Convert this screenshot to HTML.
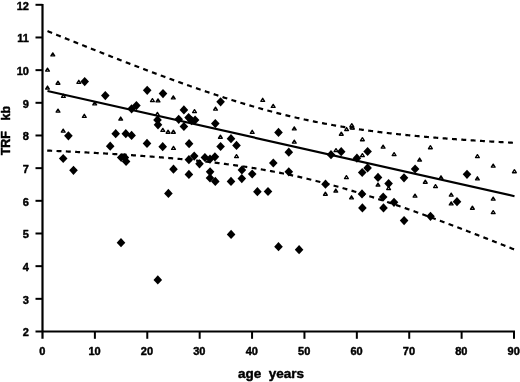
<!DOCTYPE html>
<html><head><meta charset="utf-8"><style>
html,body{margin:0;padding:0;background:#fff;}
svg{display:block;filter:grayscale(1);}
.t{font-family:"Liberation Sans",sans-serif;font-weight:bold;font-size:11px;fill:#000;stroke:#000;stroke-width:0.45;stroke-linejoin:round;}
.ax{font-family:"Liberation Sans",sans-serif;font-weight:bold;font-size:13.5px;fill:#000;stroke:#000;stroke-width:0.45;stroke-linejoin:round;}
.ay{font-family:"Liberation Sans",sans-serif;font-weight:bold;font-size:12.5px;fill:#000;stroke:#000;stroke-width:0.45;stroke-linejoin:round;}
.tp{fill:#000;stroke:#000;stroke-width:0.45;stroke-linejoin:round;}
.tr{fill:#fff;stroke:#000;stroke-width:1.35;stroke-linejoin:round;}
</style></head><body>
<svg width="520" height="382" viewBox="0 0 520 382">
<line x1="42.5" y1="3.9" x2="42.5" y2="338.8" stroke="#000" stroke-width="2.2"/>
<line x1="35.5" y1="331.5" x2="515.01" y2="331.5" stroke="#000" stroke-width="2.2"/>
<line x1="35.5" y1="298.83" x2="42.5" y2="298.83" stroke="#000" stroke-width="2"/>
<line x1="35.5" y1="266.16" x2="42.5" y2="266.16" stroke="#000" stroke-width="2"/>
<line x1="35.5" y1="233.49" x2="42.5" y2="233.49" stroke="#000" stroke-width="2"/>
<line x1="35.5" y1="200.82" x2="42.5" y2="200.82" stroke="#000" stroke-width="2"/>
<line x1="35.5" y1="168.15" x2="42.5" y2="168.15" stroke="#000" stroke-width="2"/>
<line x1="35.5" y1="135.48" x2="42.5" y2="135.48" stroke="#000" stroke-width="2"/>
<line x1="35.5" y1="102.81" x2="42.5" y2="102.81" stroke="#000" stroke-width="2"/>
<line x1="35.5" y1="70.14" x2="42.5" y2="70.14" stroke="#000" stroke-width="2"/>
<line x1="35.5" y1="37.47" x2="42.5" y2="37.47" stroke="#000" stroke-width="2"/>
<line x1="35.5" y1="4.80" x2="42.5" y2="4.80" stroke="#000" stroke-width="2"/>
<line x1="94.89" y1="331.5" x2="94.89" y2="338.8" stroke="#000" stroke-width="2"/>
<line x1="147.28" y1="331.5" x2="147.28" y2="338.8" stroke="#000" stroke-width="2"/>
<line x1="199.67" y1="331.5" x2="199.67" y2="338.8" stroke="#000" stroke-width="2"/>
<line x1="252.06" y1="331.5" x2="252.06" y2="338.8" stroke="#000" stroke-width="2"/>
<line x1="304.45" y1="331.5" x2="304.45" y2="338.8" stroke="#000" stroke-width="2"/>
<line x1="356.84" y1="331.5" x2="356.84" y2="338.8" stroke="#000" stroke-width="2"/>
<line x1="409.23" y1="331.5" x2="409.23" y2="338.8" stroke="#000" stroke-width="2"/>
<line x1="461.62" y1="331.5" x2="461.62" y2="338.8" stroke="#000" stroke-width="2"/>
<line x1="514.01" y1="331.5" x2="514.01" y2="338.8" stroke="#000" stroke-width="2"/>
<text x="28.9" y="336.30" text-anchor="end" class="t">2</text>
<text x="28.9" y="303.63" text-anchor="end" class="t">3</text>
<text x="28.9" y="270.96" text-anchor="end" class="t">4</text>
<text x="28.9" y="238.29" text-anchor="end" class="t">5</text>
<text x="28.9" y="205.62" text-anchor="end" class="t">6</text>
<text x="28.9" y="172.95" text-anchor="end" class="t">7</text>
<text x="28.9" y="140.28" text-anchor="end" class="t">8</text>
<text x="28.9" y="107.61" text-anchor="end" class="t">9</text>
<text x="28.9" y="74.94" text-anchor="end" class="t">10</text>
<text x="28.9" y="42.27" text-anchor="end" class="t">11</text>
<text x="28.9" y="9.60" text-anchor="end" class="t">12</text>
<text x="42.20" y="354.7" text-anchor="middle" class="t">0</text>
<text x="94.59" y="354.7" text-anchor="middle" class="t">10</text>
<text x="146.98" y="354.7" text-anchor="middle" class="t">20</text>
<text x="199.37" y="354.7" text-anchor="middle" class="t">30</text>
<text x="251.76" y="354.7" text-anchor="middle" class="t">40</text>
<text x="304.15" y="354.7" text-anchor="middle" class="t">50</text>
<text x="356.54" y="354.7" text-anchor="middle" class="t">60</text>
<text x="408.93" y="354.7" text-anchor="middle" class="t">70</text>
<text x="461.32" y="354.7" text-anchor="middle" class="t">80</text>
<text x="513.71" y="354.7" text-anchor="middle" class="t">90</text>
<text x="237.9" y="377.9" class="ax" xml:space="preserve">age  years</text>
<g transform="translate(10.3,155.2) rotate(-90)"><text x="-0.140" y="0" class="ay">TRF</text><text x="34.627" y="0" class="ay">kb</text></g>
<path d="M47.50,31.09 L48.50,31.50 L49.50,31.91 L50.50,32.31 L51.50,32.72 L52.50,33.12 L53.50,33.53 L54.50,33.93 L55.50,34.34 L56.50,34.74 L57.50,35.15 L58.50,35.55 L59.50,35.95 L60.50,36.36 L61.50,36.76 L62.50,37.16 L63.50,37.57 L64.50,37.97 L65.50,38.37 L66.50,38.78 L67.50,39.18 L68.50,39.58 L69.50,39.98 L70.50,40.38 L71.50,40.79 L72.50,41.19 L73.50,41.59 L74.50,41.99 L75.50,42.39 L76.50,42.79 L77.50,43.19 L78.50,43.59 L79.50,43.99 L80.50,44.39 L81.50,44.79 L82.50,45.19 L83.50,45.59 L84.50,45.99 L85.50,46.38 L86.50,46.78 L87.50,47.18 L88.50,47.58 L89.50,47.97 L90.50,48.37 L91.50,48.77 L92.50,49.17 L93.50,49.56 L94.50,49.96 L95.50,50.35 L96.50,50.75 L97.50,51.14 L98.50,51.54 L99.50,51.93 L100.50,52.33 L101.50,52.72 L102.50,53.12 L103.50,53.51 L104.50,53.90 L105.50,54.30 L106.50,54.69 L107.50,55.08 L108.50,55.47 L109.50,55.86 L110.50,56.25 L111.50,56.65 L112.50,57.04 L113.50,57.43 L114.50,57.82 L115.50,58.21 L116.50,58.60 L117.50,58.99 L118.50,59.37 L119.50,59.76 L120.50,60.15 L121.50,60.54 L122.50,60.93 L123.50,61.31 L124.50,61.70 L125.50,62.09 L126.50,62.47 L127.50,62.86 L128.50,63.24 L129.50,63.63 L130.50,64.01 L131.50,64.40 L132.50,64.78 L133.50,65.16 L134.50,65.54 L135.50,65.93 L136.50,66.31 L137.50,66.69 L138.50,67.07 L139.50,67.45 L140.50,67.83 L141.50,68.21 L142.50,68.59 L143.50,68.97 L144.50,69.35 L145.50,69.73 L146.50,70.11 L147.50,70.48 L148.50,70.86 L149.50,71.24 L150.50,71.61 L151.50,71.99 L152.50,72.36 L153.50,72.74 L154.50,73.11 L155.50,73.48 L156.50,73.86 L157.50,74.23 L158.50,74.60 L159.50,74.97 L160.50,75.34 L161.50,75.71 L162.50,76.08 L163.50,76.45 L164.50,76.82 L165.50,77.19 L166.50,77.55 L167.50,77.92 L168.50,78.29 L169.50,78.65 L170.50,79.02 L171.50,79.38 L172.50,79.75 L173.50,80.11 L174.50,80.47 L175.50,80.83 L176.50,81.20 L177.50,81.56 L178.50,81.92 L179.50,82.28 L180.50,82.64 L181.50,82.99 L182.50,83.35 L183.50,83.71 L184.50,84.06 L185.50,84.42 L186.50,84.77 L187.50,85.13 L188.50,85.48 L189.50,85.83 L190.50,86.19 L191.50,86.54 L192.50,86.89 L193.50,87.24 L194.50,87.59 L195.50,87.94 L196.50,88.28 L197.50,88.63 L198.50,88.98 L199.50,89.32 L200.50,89.67 L201.50,90.01 L202.50,90.35 L203.50,90.69 L204.50,91.03 L205.50,91.37 L206.50,91.71 L207.50,92.05 L208.50,92.39 L209.50,92.73 L210.50,93.06 L211.50,93.40 L212.50,93.73 L213.50,94.06 L214.50,94.40 L215.50,94.73 L216.50,95.06 L217.50,95.39 L218.50,95.72 L219.50,96.04 L220.50,96.37 L221.50,96.70 L222.50,97.02 L223.50,97.34 L224.50,97.67 L225.50,97.99 L226.50,98.31 L227.50,98.63 L228.50,98.95 L229.50,99.26 L230.50,99.58 L231.50,99.90 L232.50,100.21 L233.50,100.52 L234.50,100.84 L235.50,101.15 L236.50,101.46 L237.50,101.77 L238.50,102.07 L239.50,102.38 L240.50,102.68 L241.50,102.99 L242.50,103.29 L243.50,103.59 L244.50,103.89 L245.50,104.19 L246.50,104.49 L247.50,104.79 L248.50,105.08 L249.50,105.38 L250.50,105.67 L251.50,105.96 L252.50,106.26 L253.50,106.55 L254.50,106.83 L255.50,107.12 L256.50,107.41 L257.50,107.69 L258.50,107.97 L259.50,108.26 L260.50,108.54 L261.50,108.82 L262.50,109.09 L263.50,109.37 L264.50,109.65 L265.50,109.92 L266.50,110.19 L267.50,110.46 L268.50,110.73 L269.50,111.00 L270.50,111.27 L271.50,111.54 L272.50,111.80 L273.50,112.06 L274.50,112.33 L275.50,112.59 L276.50,112.84 L277.50,113.10 L278.50,113.36 L279.50,113.61 L280.50,113.87 L281.50,114.12 L282.50,114.37 L283.50,114.62 L284.50,114.86 L285.50,115.11 L286.50,115.35 L287.50,115.60 L288.50,115.84 L289.50,116.08 L290.50,116.32 L291.50,116.56 L292.50,116.79 L293.50,117.03 L294.50,117.26 L295.50,117.49 L296.50,117.72 L297.50,117.95 L298.50,118.18 L299.50,118.40 L300.50,118.63 L301.50,118.85 L302.50,119.07 L303.50,119.29 L304.50,119.51 L305.50,119.72 L306.50,119.94 L307.50,120.15 L308.50,120.37 L309.50,120.58 L310.50,120.79 L311.50,121.00 L312.50,121.20 L313.50,121.41 L314.50,121.61 L315.50,121.81 L316.50,122.01 L317.50,122.21 L318.50,122.41 L319.50,122.61 L320.50,122.80 L321.50,123.00 L322.50,123.19 L323.50,123.38 L324.50,123.57 L325.50,123.76 L326.50,123.95 L327.50,124.13 L328.50,124.31 L329.50,124.50 L330.50,124.68 L331.50,124.86 L332.50,125.04 L333.50,125.21 L334.50,125.39 L335.50,125.57 L336.50,125.74 L337.50,125.91 L338.50,126.08 L339.50,126.25 L340.50,126.42 L341.50,126.58 L342.50,126.75 L343.50,126.91 L344.50,127.08 L345.50,127.24 L346.50,127.40 L347.50,127.56 L348.50,127.72 L349.50,127.87 L350.50,128.03 L351.50,128.18 L352.50,128.34 L353.50,128.49 L354.50,128.64 L355.50,128.79 L356.50,128.94 L357.50,129.08 L358.50,129.23 L359.50,129.37 L360.50,129.52 L361.50,129.66 L362.50,129.80 L363.50,129.94 L364.50,130.08 L365.50,130.22 L366.50,130.36 L367.50,130.49 L368.50,130.63 L369.50,130.76 L370.50,130.89 L371.50,131.02 L372.50,131.16 L373.50,131.29 L374.50,131.41 L375.50,131.54 L376.50,131.67 L377.50,131.79 L378.50,131.92 L379.50,132.04 L380.50,132.16 L381.50,132.29 L382.50,132.41 L383.50,132.53 L384.50,132.65 L385.50,132.76 L386.50,132.88 L387.50,133.00 L388.50,133.11 L389.50,133.23 L390.50,133.34 L391.50,133.45 L392.50,133.57 L393.50,133.68 L394.50,133.79 L395.50,133.90 L396.50,134.01 L397.50,134.11 L398.50,134.22 L399.50,134.33 L400.50,134.43 L401.50,134.54 L402.50,134.64 L403.50,134.74 L404.50,134.85 L405.50,134.95 L406.50,135.05 L407.50,135.15 L408.50,135.25 L409.50,135.35 L410.50,135.44 L411.50,135.54 L412.50,135.64 L413.50,135.73 L414.50,135.83 L415.50,135.92 L416.50,136.02 L417.50,136.11 L418.50,136.20 L419.50,136.29 L420.50,136.38 L421.50,136.47 L422.50,136.56 L423.50,136.65 L424.50,136.74 L425.50,136.83 L426.50,136.92 L427.50,137.00 L428.50,137.09 L429.50,137.18 L430.50,137.26 L431.50,137.34 L432.50,137.43 L433.50,137.51 L434.50,137.59 L435.50,137.68 L436.50,137.76 L437.50,137.84 L438.50,137.92 L439.50,138.00 L440.50,138.08 L441.50,138.16 L442.50,138.24 L443.50,138.31 L444.50,138.39 L445.50,138.47 L446.50,138.55 L447.50,138.62 L448.50,138.70 L449.50,138.77 L450.50,138.85 L451.50,138.92 L452.50,138.99 L453.50,139.07 L454.50,139.14 L455.50,139.21 L456.50,139.28 L457.50,139.36 L458.50,139.43 L459.50,139.50 L460.50,139.57 L461.50,139.64 L462.50,139.71 L463.50,139.78 L464.50,139.84 L465.50,139.91 L466.50,139.98 L467.50,140.05 L468.50,140.11 L469.50,140.18 L470.50,140.25 L471.50,140.31 L472.50,140.38 L473.50,140.44 L474.50,140.51 L475.50,140.57 L476.50,140.64 L477.50,140.70 L478.50,140.76 L479.50,140.82 L480.50,140.89 L481.50,140.95 L482.50,141.01 L483.50,141.07 L484.50,141.13 L485.50,141.19 L486.50,141.26 L487.50,141.32 L488.50,141.38 L489.50,141.44 L490.50,141.49 L491.50,141.55 L492.50,141.61 L493.50,141.67 L494.50,141.73 L495.50,141.79 L496.50,141.84 L497.50,141.90 L498.50,141.96 L499.50,142.01 L500.50,142.07 L501.50,142.13 L502.50,142.18 L503.50,142.24 L504.50,142.29 L505.50,142.35 L506.50,142.40 L507.50,142.46 L508.50,142.51 L509.50,142.57 L510.50,142.62 L511.50,142.67 L512.50,142.73 L513.50,142.78 L514.50,142.83" fill="none" stroke="#000" stroke-width="2.2" stroke-dasharray="4.95 4.405"/>
<path d="M47.20,150.55 L48.20,150.60 L49.20,150.64 L50.20,150.69 L51.20,150.73 L52.20,150.78 L53.20,150.83 L54.20,150.87 L55.20,150.92 L56.20,150.97 L57.20,151.01 L58.20,151.06 L59.20,151.11 L60.20,151.15 L61.20,151.20 L62.20,151.25 L63.20,151.30 L64.20,151.35 L65.20,151.39 L66.20,151.44 L67.20,151.49 L68.20,151.54 L69.20,151.59 L70.20,151.64 L71.20,151.69 L72.20,151.74 L73.20,151.79 L74.20,151.84 L75.20,151.89 L76.20,151.94 L77.20,151.99 L78.20,152.04 L79.20,152.09 L80.20,152.15 L81.20,152.20 L82.20,152.25 L83.20,152.30 L84.20,152.36 L85.20,152.41 L86.20,152.46 L87.20,152.51 L88.20,152.57 L89.20,152.62 L90.20,152.68 L91.20,152.73 L92.20,152.79 L93.20,152.84 L94.20,152.90 L95.20,152.95 L96.20,153.01 L97.20,153.06 L98.20,153.12 L99.20,153.18 L100.20,153.23 L101.20,153.29 L102.20,153.35 L103.20,153.40 L104.20,153.46 L105.20,153.52 L106.20,153.58 L107.20,153.64 L108.20,153.70 L109.20,153.76 L110.20,153.82 L111.20,153.88 L112.20,153.94 L113.20,154.00 L114.20,154.06 L115.20,154.12 L116.20,154.18 L117.20,154.24 L118.20,154.31 L119.20,154.37 L120.20,154.43 L121.20,154.50 L122.20,154.56 L123.20,154.62 L124.20,154.69 L125.20,154.75 L126.20,154.82 L127.20,154.88 L128.20,154.95 L129.20,155.02 L130.20,155.08 L131.20,155.15 L132.20,155.22 L133.20,155.29 L134.20,155.35 L135.20,155.42 L136.20,155.49 L137.20,155.56 L138.20,155.63 L139.20,155.70 L140.20,155.77 L141.20,155.84 L142.20,155.92 L143.20,155.99 L144.20,156.06 L145.20,156.13 L146.20,156.21 L147.20,156.28 L148.20,156.36 L149.20,156.43 L150.20,156.51 L151.20,156.58 L152.20,156.66 L153.20,156.73 L154.20,156.81 L155.20,156.89 L156.20,156.97 L157.20,157.05 L158.20,157.13 L159.20,157.21 L160.20,157.29 L161.20,157.37 L162.20,157.45 L163.20,157.53 L164.20,157.61 L165.20,157.70 L166.20,157.78 L167.20,157.86 L168.20,157.95 L169.20,158.03 L170.20,158.12 L171.20,158.21 L172.20,158.29 L173.20,158.38 L174.20,158.47 L175.20,158.56 L176.20,158.65 L177.20,158.74 L178.20,158.83 L179.20,158.92 L180.20,159.01 L181.20,159.11 L182.20,159.20 L183.20,159.29 L184.20,159.39 L185.20,159.48 L186.20,159.58 L187.20,159.68 L188.20,159.78 L189.20,159.87 L190.20,159.97 L191.20,160.07 L192.20,160.17 L193.20,160.27 L194.20,160.38 L195.20,160.48 L196.20,160.58 L197.20,160.69 L198.20,160.79 L199.20,160.90 L200.20,161.00 L201.20,161.11 L202.20,161.22 L203.20,161.33 L204.20,161.44 L205.20,161.55 L206.20,161.66 L207.20,161.77 L208.20,161.89 L209.20,162.00 L210.20,162.12 L211.20,162.23 L212.20,162.35 L213.20,162.47 L214.20,162.59 L215.20,162.71 L216.20,162.83 L217.20,162.95 L218.20,163.07 L219.20,163.19 L220.20,163.32 L221.20,163.44 L222.20,163.57 L223.20,163.70 L224.20,163.83 L225.20,163.96 L226.20,164.09 L227.20,164.22 L228.20,164.35 L229.20,164.48 L230.20,164.62 L231.20,164.75 L232.20,164.89 L233.20,165.03 L234.20,165.17 L235.20,165.31 L236.20,165.45 L237.20,165.59 L238.20,165.73 L239.20,165.88 L240.20,166.02 L241.20,166.17 L242.20,166.32 L243.20,166.47 L244.20,166.62 L245.20,166.77 L246.20,166.92 L247.20,167.08 L248.20,167.23 L249.20,167.39 L250.20,167.54 L251.20,167.70 L252.20,167.86 L253.20,168.02 L254.20,168.19 L255.20,168.35 L256.20,168.52 L257.20,168.68 L258.20,168.85 L259.20,169.02 L260.20,169.19 L261.20,169.36 L262.20,169.53 L263.20,169.71 L264.20,169.88 L265.20,170.06 L266.20,170.24 L267.20,170.42 L268.20,170.60 L269.20,170.78 L270.20,170.96 L271.20,171.15 L272.20,171.34 L273.20,171.52 L274.20,171.71 L275.20,171.90 L276.20,172.09 L277.20,172.29 L278.20,172.48 L279.20,172.68 L280.20,172.88 L281.20,173.08 L282.20,173.28 L283.20,173.48 L284.20,173.68 L285.20,173.89 L286.20,174.09 L287.20,174.30 L288.20,174.51 L289.20,174.72 L290.20,174.93 L291.20,175.15 L292.20,175.36 L293.20,175.58 L294.20,175.80 L295.20,176.01 L296.20,176.24 L297.20,176.46 L298.20,176.68 L299.20,176.91 L300.20,177.13 L301.20,177.36 L302.20,177.59 L303.20,177.82 L304.20,178.05 L305.20,178.29 L306.20,178.52 L307.20,178.76 L308.20,179.00 L309.20,179.24 L310.20,179.48 L311.20,179.72 L312.20,179.97 L313.20,180.21 L314.20,180.46 L315.20,180.71 L316.20,180.96 L317.20,181.21 L318.20,181.46 L319.20,181.72 L320.20,181.97 L321.20,182.23 L322.20,182.49 L323.20,182.75 L324.20,183.01 L325.20,183.27 L326.20,183.53 L327.20,183.80 L328.20,184.07 L329.20,184.34 L330.20,184.60 L331.20,184.88 L332.20,185.15 L333.20,185.42 L334.20,185.70 L335.20,185.97 L336.20,186.25 L337.20,186.53 L338.20,186.81 L339.20,187.09 L340.20,187.37 L341.20,187.66 L342.20,187.94 L343.20,188.23 L344.20,188.52 L345.20,188.81 L346.20,189.10 L347.20,189.39 L348.20,189.68 L349.20,189.98 L350.20,190.27 L351.20,190.57 L352.20,190.87 L353.20,191.17 L354.20,191.47 L355.20,191.77 L356.20,192.07 L357.20,192.37 L358.20,192.68 L359.20,192.99 L360.20,193.29 L361.20,193.60 L362.20,193.91 L363.20,194.22 L364.20,194.53 L365.20,194.85 L366.20,195.16 L367.20,195.47 L368.20,195.79 L369.20,196.11 L370.20,196.43 L371.20,196.75 L372.20,197.07 L373.20,197.39 L374.20,197.71 L375.20,198.03 L376.20,198.36 L377.20,198.68 L378.20,199.01 L379.20,199.34 L380.20,199.66 L381.20,199.99 L382.20,200.32 L383.20,200.65 L384.20,200.99 L385.20,201.32 L386.20,201.65 L387.20,201.99 L388.20,202.32 L389.20,202.66 L390.20,203.00 L391.20,203.33 L392.20,203.67 L393.20,204.01 L394.20,204.35 L395.20,204.70 L396.20,205.04 L397.20,205.38 L398.20,205.73 L399.20,206.07 L400.20,206.42 L401.20,206.76 L402.20,207.11 L403.20,207.46 L404.20,207.81 L405.20,208.16 L406.20,208.51 L407.20,208.86 L408.20,209.21 L409.20,209.56 L410.20,209.92 L411.20,210.27 L412.20,210.62 L413.20,210.98 L414.20,211.34 L415.20,211.69 L416.20,212.05 L417.20,212.41 L418.20,212.77 L419.20,213.13 L420.20,213.49 L421.20,213.85 L422.20,214.21 L423.20,214.57 L424.20,214.93 L425.20,215.29 L426.20,215.66 L427.20,216.02 L428.20,216.39 L429.20,216.75 L430.20,217.12 L431.20,217.49 L432.20,217.85 L433.20,218.22 L434.20,218.59 L435.20,218.96 L436.20,219.33 L437.20,219.70 L438.20,220.07 L439.20,220.44 L440.20,220.81 L441.20,221.18 L442.20,221.56 L443.20,221.93 L444.20,222.30 L445.20,222.68 L446.20,223.05 L447.20,223.43 L448.20,223.80 L449.20,224.18 L450.20,224.55 L451.20,224.93 L452.20,225.31 L453.20,225.69 L454.20,226.07 L455.20,226.44 L456.20,226.82 L457.20,227.20 L458.20,227.58 L459.20,227.96 L460.20,228.35 L461.20,228.73 L462.20,229.11 L463.20,229.49 L464.20,229.87 L465.20,230.26 L466.20,230.64 L467.20,231.02 L468.20,231.41 L469.20,231.79 L470.20,232.18 L471.20,232.56 L472.20,232.95 L473.20,233.34 L474.20,233.72 L475.20,234.11 L476.20,234.50 L477.20,234.88 L478.20,235.27 L479.20,235.66 L480.20,236.05 L481.20,236.44 L482.20,236.83 L483.20,237.22 L484.20,237.61 L485.20,238.00 L486.20,238.39 L487.20,238.78 L488.20,239.17 L489.20,239.56 L490.20,239.95 L491.20,240.34 L492.20,240.74 L493.20,241.13 L494.20,241.52 L495.20,241.92 L496.20,242.31 L497.20,242.70 L498.20,243.10 L499.20,243.49 L500.20,243.89 L501.20,244.28 L502.20,244.68 L503.20,245.07 L504.20,245.47 L505.20,245.87 L506.20,246.26 L507.20,246.66 L508.20,247.06 L509.20,247.45 L510.20,247.85 L511.20,248.25 L512.20,248.65 L513.20,249.05 L514.20,249.44" fill="none" stroke="#000" stroke-width="2.2" stroke-dasharray="4.95 4.378"/>
<line x1="47.5" y1="91" x2="514.5" y2="196.2" stroke="#000" stroke-width="2.2"/>
<path d="M52.80,52.90 L54.70,55.92 L50.90,55.92Z" class="tr"/>
<path d="M47.50,68.10 L49.40,71.12 L45.60,71.12Z" class="tr"/>
<path d="M58.00,81.20 L59.90,84.22 L56.10,84.22Z" class="tr"/>
<path d="M78.80,80.30 L80.70,83.32 L76.90,83.32Z" class="tr"/>
<path d="M47.50,86.00 L49.40,89.02 L45.60,89.02Z" class="tr"/>
<path d="M63.40,94.30 L65.30,97.32 L61.50,97.32Z" class="tr"/>
<path d="M94.70,101.90 L96.60,104.92 L92.80,104.92Z" class="tr"/>
<path d="M58.00,109.10 L59.90,112.12 L56.10,112.12Z" class="tr"/>
<path d="M84.30,114.30 L86.20,117.32 L82.40,117.32Z" class="tr"/>
<path d="M120.70,117.00 L122.60,120.02 L118.80,120.02Z" class="tr"/>
<path d="M63.20,129.10 L65.10,132.12 L61.30,132.12Z" class="tr"/>
<path d="M152.40,98.60 L154.30,101.62 L150.50,101.62Z" class="tr"/>
<path d="M158.00,98.90 L159.90,101.92 L156.10,101.92Z" class="tr"/>
<path d="M173.30,95.90 L175.20,98.92 L171.40,98.92Z" class="tr"/>
<path d="M194.50,109.60 L196.40,112.62 L192.60,112.62Z" class="tr"/>
<path d="M157.40,112.40 L159.30,115.42 L155.50,115.42Z" class="tr"/>
<path d="M162.80,128.40 L164.70,131.42 L160.90,131.42Z" class="tr"/>
<path d="M168.10,130.20 L170.00,133.22 L166.20,133.22Z" class="tr"/>
<path d="M173.40,130.20 L175.30,133.22 L171.50,133.22Z" class="tr"/>
<path d="M215.50,107.10 L217.40,110.12 L213.60,110.12Z" class="tr"/>
<path d="M262.70,98.30 L264.60,101.32 L260.80,101.32Z" class="tr"/>
<path d="M273.20,104.40 L275.10,107.42 L271.30,107.42Z" class="tr"/>
<path d="M252.20,130.30 L254.10,133.32 L250.30,133.32Z" class="tr"/>
<path d="M220.40,135.20 L222.30,138.22 L218.50,138.22Z" class="tr"/>
<path d="M173.50,146.40 L175.40,149.42 L171.60,149.42Z" class="tr"/>
<path d="M236.50,154.60 L238.40,157.62 L234.60,157.62Z" class="tr"/>
<path d="M294.30,126.90 L296.20,129.92 L292.40,129.92Z" class="tr"/>
<path d="M294.30,140.10 L296.20,143.12 L292.40,143.12Z" class="tr"/>
<path d="M341.30,132.20 L343.20,135.22 L339.40,135.22Z" class="tr"/>
<path d="M346.60,127.50 L348.50,130.52 L344.70,130.52Z" class="tr"/>
<path d="M351.80,123.70 L353.70,126.72 L349.90,126.72Z" class="tr"/>
<path d="M352.30,126.00 L354.20,129.02 L350.40,129.02Z" class="tr"/>
<path d="M336.00,148.60 L337.90,151.62 L334.10,151.62Z" class="tr"/>
<path d="M362.40,137.70 L364.30,140.72 L360.50,140.72Z" class="tr"/>
<path d="M383.10,145.10 L385.00,148.12 L381.20,148.12Z" class="tr"/>
<path d="M394.10,152.60 L396.00,155.62 L392.20,155.62Z" class="tr"/>
<path d="M362.40,153.60 L364.30,156.62 L360.50,156.62Z" class="tr"/>
<path d="M346.40,175.60 L348.30,178.62 L344.50,178.62Z" class="tr"/>
<path d="M378.00,183.00 L379.90,186.02 L376.10,186.02Z" class="tr"/>
<path d="M388.60,186.60 L390.50,189.62 L386.70,189.62Z" class="tr"/>
<path d="M351.50,195.80 L353.40,198.82 L349.60,198.82Z" class="tr"/>
<path d="M325.40,192.20 L327.30,195.22 L323.50,195.22Z" class="tr"/>
<path d="M335.80,189.00 L337.70,192.02 L333.90,192.02Z" class="tr"/>
<path d="M430.40,145.70 L432.30,148.72 L428.50,148.72Z" class="tr"/>
<path d="M419.60,158.00 L421.50,161.02 L417.70,161.02Z" class="tr"/>
<path d="M441.00,175.80 L442.90,178.82 L439.10,178.82Z" class="tr"/>
<path d="M425.30,180.20 L427.20,183.22 L423.40,183.22Z" class="tr"/>
<path d="M435.50,184.60 L437.40,187.62 L433.60,187.62Z" class="tr"/>
<path d="M415.00,194.10 L416.90,197.12 L413.10,197.12Z" class="tr"/>
<path d="M451.20,193.10 L453.10,196.12 L449.30,196.12Z" class="tr"/>
<path d="M451.20,201.90 L453.10,204.92 L449.30,204.92Z" class="tr"/>
<path d="M477.40,154.60 L479.30,157.62 L475.50,157.62Z" class="tr"/>
<path d="M493.20,164.10 L495.10,167.12 L491.30,167.12Z" class="tr"/>
<path d="M514.40,169.70 L516.30,172.72 L512.50,172.72Z" class="tr"/>
<path d="M477.40,176.80 L479.30,179.82 L475.50,179.82Z" class="tr"/>
<path d="M493.20,197.10 L495.10,200.12 L491.30,200.12Z" class="tr"/>
<path d="M472.40,206.20 L474.30,209.22 L470.50,209.22Z" class="tr"/>
<path d="M493.20,210.60 L495.10,213.62 L491.30,213.62Z" class="tr"/>
<path d="M84.70,77.00 L89.00,81.60 L84.70,86.20 L80.40,81.60Z"/>
<path d="M105.30,91.00 L109.60,95.60 L105.30,100.20 L101.00,95.60Z"/>
<path d="M131.60,104.20 L135.90,108.80 L131.60,113.40 L127.30,108.80Z"/>
<path d="M136.40,101.00 L140.70,105.60 L136.40,110.20 L132.10,105.60Z"/>
<path d="M68.40,131.20 L72.70,135.80 L68.40,140.40 L64.10,135.80Z"/>
<path d="M115.70,129.10 L120.00,133.70 L115.70,138.30 L111.40,133.70Z"/>
<path d="M125.80,129.10 L130.10,133.70 L125.80,138.30 L121.50,133.70Z"/>
<path d="M131.60,130.80 L135.90,135.40 L131.60,140.00 L127.30,135.40Z"/>
<path d="M110.20,141.60 L114.50,146.20 L110.20,150.80 L105.90,146.20Z"/>
<path d="M63.20,153.90 L67.50,158.50 L63.20,163.10 L58.90,158.50Z"/>
<path d="M121.20,152.90 L125.50,157.50 L121.20,162.10 L116.90,157.50Z"/>
<path d="M124.90,152.90 L129.20,157.50 L124.90,162.10 L120.60,157.50Z"/>
<path d="M126.10,156.90 L130.40,161.50 L126.10,166.10 L121.80,161.50Z"/>
<path d="M73.50,165.70 L77.80,170.30 L73.50,174.90 L69.20,170.30Z"/>
<path d="M147.20,85.70 L151.50,90.30 L147.20,94.90 L142.90,90.30Z"/>
<path d="M163.00,89.00 L167.30,93.60 L163.00,98.20 L158.70,93.60Z"/>
<path d="M183.90,105.30 L188.20,109.90 L183.90,114.50 L179.60,109.90Z"/>
<path d="M157.50,115.30 L161.80,119.90 L157.50,124.50 L153.20,119.90Z"/>
<path d="M158.00,120.20 L162.30,124.80 L158.00,129.40 L153.70,124.80Z"/>
<path d="M178.70,114.70 L183.00,119.30 L178.70,123.90 L174.40,119.30Z"/>
<path d="M188.60,113.00 L192.90,117.60 L188.60,122.20 L184.30,117.60Z"/>
<path d="M191.60,116.00 L195.90,120.60 L191.60,125.20 L187.30,120.60Z"/>
<path d="M195.10,115.40 L199.40,120.00 L195.10,124.60 L190.80,120.00Z"/>
<path d="M183.90,121.90 L188.20,126.50 L183.90,131.10 L179.60,126.50Z"/>
<path d="M147.00,138.80 L151.30,143.40 L147.00,148.00 L142.70,143.40Z"/>
<path d="M162.70,142.10 L167.00,146.70 L162.70,151.30 L158.40,146.70Z"/>
<path d="M220.60,97.20 L224.90,101.80 L220.60,106.40 L216.30,101.80Z"/>
<path d="M215.30,119.00 L219.60,123.60 L215.30,128.20 L211.00,123.60Z"/>
<path d="M231.00,134.10 L235.30,138.70 L231.00,143.30 L226.70,138.70Z"/>
<path d="M220.60,141.90 L224.90,146.50 L220.60,151.10 L216.30,146.50Z"/>
<path d="M236.50,140.80 L240.80,145.40 L236.50,150.00 L232.20,145.40Z"/>
<path d="M189.10,139.10 L193.40,143.70 L189.10,148.30 L184.80,143.70Z"/>
<path d="M188.90,155.10 L193.20,159.70 L188.90,164.30 L184.60,159.70Z"/>
<path d="M194.20,151.50 L198.50,156.10 L194.20,160.70 L189.90,156.10Z"/>
<path d="M199.50,159.20 L203.80,163.80 L199.50,168.40 L195.20,163.80Z"/>
<path d="M204.90,152.90 L209.20,157.50 L204.90,162.10 L200.60,157.50Z"/>
<path d="M210.00,154.50 L214.30,159.10 L210.00,163.70 L205.70,159.10Z"/>
<path d="M214.90,152.20 L219.20,156.80 L214.90,161.40 L210.60,156.80Z"/>
<path d="M173.50,164.60 L177.80,169.20 L173.50,173.80 L169.20,169.20Z"/>
<path d="M188.90,169.80 L193.20,174.40 L188.90,179.00 L184.60,174.40Z"/>
<path d="M210.10,167.20 L214.40,171.80 L210.10,176.40 L205.80,171.80Z"/>
<path d="M210.00,173.40 L214.30,178.00 L210.00,182.60 L205.70,178.00Z"/>
<path d="M215.30,176.80 L219.60,181.40 L215.30,186.00 L211.00,181.40Z"/>
<path d="M231.00,176.80 L235.30,181.40 L231.00,186.00 L226.70,181.40Z"/>
<path d="M241.90,165.40 L246.20,170.00 L241.90,174.60 L237.60,170.00Z"/>
<path d="M241.80,174.00 L246.10,178.60 L241.80,183.20 L237.50,178.60Z"/>
<path d="M252.20,169.40 L256.50,174.00 L252.20,178.60 L247.90,174.00Z"/>
<path d="M257.40,187.10 L261.70,191.70 L257.40,196.30 L253.10,191.70Z"/>
<path d="M268.00,186.90 L272.30,191.50 L268.00,196.10 L263.70,191.50Z"/>
<path d="M168.40,188.80 L172.70,193.40 L168.40,198.00 L164.10,193.40Z"/>
<path d="M121.00,238.10 L125.30,242.70 L121.00,247.30 L116.70,242.70Z"/>
<path d="M157.80,275.30 L162.10,279.90 L157.80,284.50 L153.50,279.90Z"/>
<path d="M231.10,229.80 L235.40,234.40 L231.10,239.00 L226.80,234.40Z"/>
<path d="M278.50,242.10 L282.80,246.70 L278.50,251.30 L274.20,246.70Z"/>
<path d="M299.10,245.10 L303.40,249.70 L299.10,254.30 L294.80,249.70Z"/>
<path d="M278.50,127.80 L282.80,132.40 L278.50,137.00 L274.20,132.40Z"/>
<path d="M288.80,147.60 L293.10,152.20 L288.80,156.80 L284.50,152.20Z"/>
<path d="M273.30,158.40 L277.60,163.00 L273.30,167.60 L269.00,163.00Z"/>
<path d="M288.80,167.20 L293.10,171.80 L288.80,176.40 L284.50,171.80Z"/>
<path d="M325.50,179.60 L329.80,184.20 L325.50,188.80 L321.20,184.20Z"/>
<path d="M331.00,150.10 L335.30,154.70 L331.00,159.30 L326.70,154.70Z"/>
<path d="M341.20,147.10 L345.50,151.70 L341.20,156.30 L336.90,151.70Z"/>
<path d="M356.90,153.60 L361.20,158.20 L356.90,162.80 L352.60,158.20Z"/>
<path d="M367.60,146.90 L371.90,151.50 L367.60,156.10 L363.30,151.50Z"/>
<path d="M367.60,163.30 L371.90,167.90 L367.60,172.50 L363.30,167.90Z"/>
<path d="M362.20,167.90 L366.50,172.50 L362.20,177.10 L357.90,172.50Z"/>
<path d="M378.00,172.80 L382.30,177.40 L378.00,182.00 L373.70,177.40Z"/>
<path d="M388.60,179.00 L392.90,183.60 L388.60,188.20 L384.30,183.60Z"/>
<path d="M404.00,173.20 L408.30,177.80 L404.00,182.40 L399.70,177.80Z"/>
<path d="M362.00,189.30 L366.30,193.90 L362.00,198.50 L357.70,193.90Z"/>
<path d="M383.20,192.40 L387.50,197.00 L383.20,201.60 L378.90,197.00Z"/>
<path d="M394.00,197.70 L398.30,202.30 L394.00,206.90 L389.70,202.30Z"/>
<path d="M362.40,203.30 L366.70,207.90 L362.40,212.50 L358.10,207.90Z"/>
<path d="M383.50,203.30 L387.80,207.90 L383.50,212.50 L379.20,207.90Z"/>
<path d="M415.10,164.40 L419.40,169.00 L415.10,173.60 L410.80,169.00Z"/>
<path d="M467.00,169.70 L471.30,174.30 L467.00,178.90 L462.70,174.30Z"/>
<path d="M457.00,197.10 L461.30,201.70 L457.00,206.30 L452.70,201.70Z"/>
<path d="M430.50,211.70 L434.80,216.30 L430.50,220.90 L426.20,216.30Z"/>
<path d="M404.10,216.00 L408.40,220.60 L404.10,225.20 L399.80,220.60Z"/>
</svg>
</body></html>
